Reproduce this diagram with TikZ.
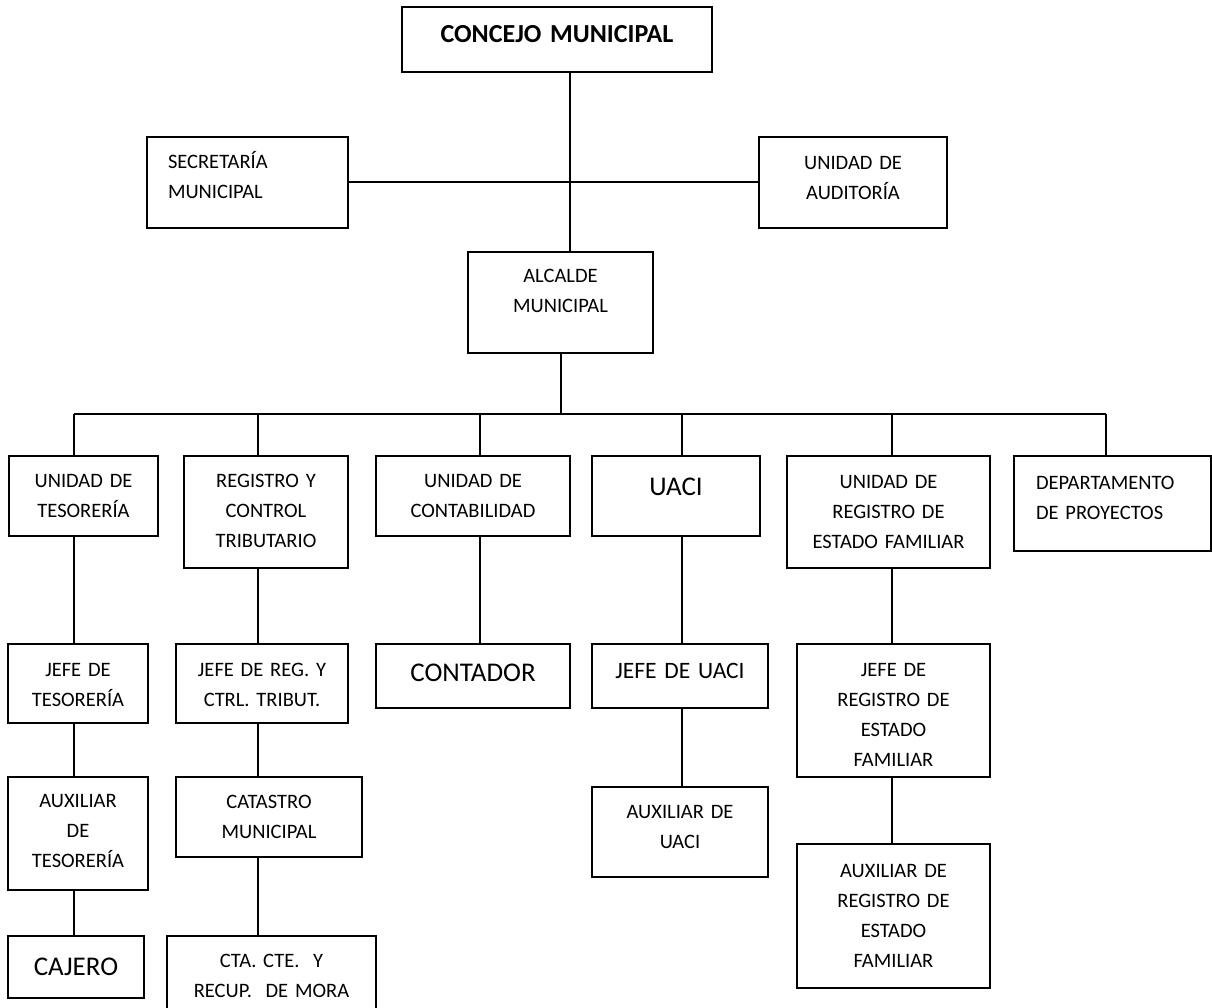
\documentclass[tikz,border=0pt]{standalone}
\usepackage{fontspec}
\setmainfont{Carlito}
\usetikzlibrary{positioning,calc}
\newcommand{\txtnormal}{\fontsize{20.5}{30}\selectfont}
\newcommand{\txtmid}{\fontsize{23.5}{30}\selectfont}
\newcommand{\txtbig}{\fontsize{27}{33}\selectfont}
\newcommand{\txthead}{\fontsize{26}{30}\selectfont\bfseries}
\tikzset{
  unit/.style={draw=black, fill=white, line width=2pt, inner xsep=4pt, inner ysep=0pt, anchor=base, align=center, font=\txtnormal},
  link/.style={draw=black, line width=2pt}
}

\begin{document}
\begin{tikzpicture}[x=1pt, y=-1pt]
\useasboundingbox (0,0) rectangle (1212,1008);

\node[unit, font=\txthead, text width=302pt, text height=36pt, text depth=29pt] (concejo) at (557,43) {CONCEJO MUNICIPAL};
\node[unit, align=left, text width=159pt, inner xsep=21pt, text height=32pt, text depth=59pt] (secr) at (247.5,169) {SECRETARÍA\\MUNICIPAL};
\node[unit, text width=180pt, text height=33pt, text depth=58pt] (aud) at (853,170) {UNIDAD DE\\AUDITORÍA};
\node[unit, text width=177pt, text height=31pt, text depth=70pt] (alc) at (560.5,283) {ALCALDE\\MUNICIPAL};

\node[unit, text width=141pt, text height=31pt, text depth=49pt] (tes) at (83.5,487) {UNIDAD DE\\TESORERÍA};
\node[unit, text width=156pt, text height=31pt, text depth=81pt] (rct) at (266,487) {REGISTRO Y\\CONTROL\\TRIBUTARIO};
\node[unit, text width=186pt, text height=31pt, text depth=49pt] (conta) at (473,487) {UNIDAD DE\\CONTABILIDAD};
\node[unit, font=\txtbig, text width=160pt, text height=39pt, text depth=41pt] (uaci) at (676,495) {UACI};
\node[unit, text width=195pt, text height=32pt, text depth=80pt] (ref) at (888.5,488) {UNIDAD DE\\REGISTRO DE\\ESTADO FAMILIAR};
\node[unit, align=left, text width=153pt, inner xsep=22pt, text height=33pt, text depth=62pt] (dep) at (1112.5,489) {DEPARTAMENTO\\DE PROYECTOS};

\node[unit, text width=132pt, text height=32pt, text depth=47pt] (jtes) at (78,676) {JEFE DE\\TESORERÍA};
\node[unit, text width=164pt, text height=32pt, text depth=47pt] (jrct) at (262,676) {JEFE DE REG. Y\\CTRL. TRIBUT.};
\node[unit, font=\txtbig, text width=186pt, text height=37pt, text depth=27pt] (cont) at (473,681) {CONTADOR};
\node[unit, font=\txtmid, text width=168pt, text height=34pt, text depth=30pt] (juaci) at (680,678) {JEFE DE UACI};
\node[unit, text width=185pt, text height=32pt, text depth=101pt] (jref) at (893.5,676) {JEFE DE\\REGISTRO DE\\ESTADO\\FAMILIAR};

\node[unit, text width=132pt, text height=30pt, text depth=83pt] (ates) at (78,807) {AUXILIAR\\DE\\TESORERÍA};
\node[unit, text width=178pt, text height=31pt, text depth=49pt] (cat) at (269,808) {CATASTRO\\MUNICIPAL};
\node[unit, text width=168pt, text height=31pt, text depth=59pt] (auaci) at (680,818) {AUXILIAR DE\\UACI};
\node[unit, text width=185pt, text height=33pt, text depth=111pt] (aref) at (893.5,877) {AUXILIAR DE\\REGISTRO DE\\ESTADO\\FAMILIAR};

\node[unit, font=\txtbig, text width=128pt, text height=39pt, text depth=23pt] (cajero) at (76,975) {CAJERO};
\node[unit, text width=201pt, text height=31pt, text depth=48pt] (cta) at (271.5,967) {CTA.\ CTE.\ \ Y\\RECUP.\ \ DE MORA};

\coordinate (hub) at (570,182);
\coordinate (c1) at (73.5,414);
\coordinate (c2) at (258,414);
\coordinate (c3) at (480,414);
\coordinate (c4) at (682,414);
\coordinate (c5) at (892,414);
\coordinate (c6) at (1106,414);

\draw[link] (concejo.south -| hub) -- (alc.north -| hub);
\draw[link] (secr.east) -- (aud.west);
\draw[link] (alc.south) -- (alc.south |- c1);
\draw[link] (c1) -- (c6);
\foreach \c/\n in {c1/tes, c2/rct, c3/conta, c4/uaci, c5/ref, c6/dep}
  \draw[link] (\c) -- (\c |- \n.north);

\draw[link] (tes.south -| c1) -- (jtes.north -| c1);
\draw[link] (jtes.south -| c1) -- (ates.north -| c1);
\draw[link] (ates.south -| c1) -- (cajero.north -| c1);
\draw[link] (rct.south -| c2) -- (jrct.north -| c2);
\draw[link] (jrct.south -| c2) -- (cat.north -| c2);
\draw[link] (cat.south -| c2) -- (cta.north -| c2);
\draw[link] (conta.south -| c3) -- (cont.north -| c3);
\draw[link] (uaci.south -| c4) -- (juaci.north -| c4);
\draw[link] (juaci.south -| c4) -- (auaci.north -| c4);
\draw[link] (ref.south -| c5) -- (jref.north -| c5);
\draw[link] (jref.south -| c5) -- (aref.north -| c5);
\end{tikzpicture}
\end{document}
